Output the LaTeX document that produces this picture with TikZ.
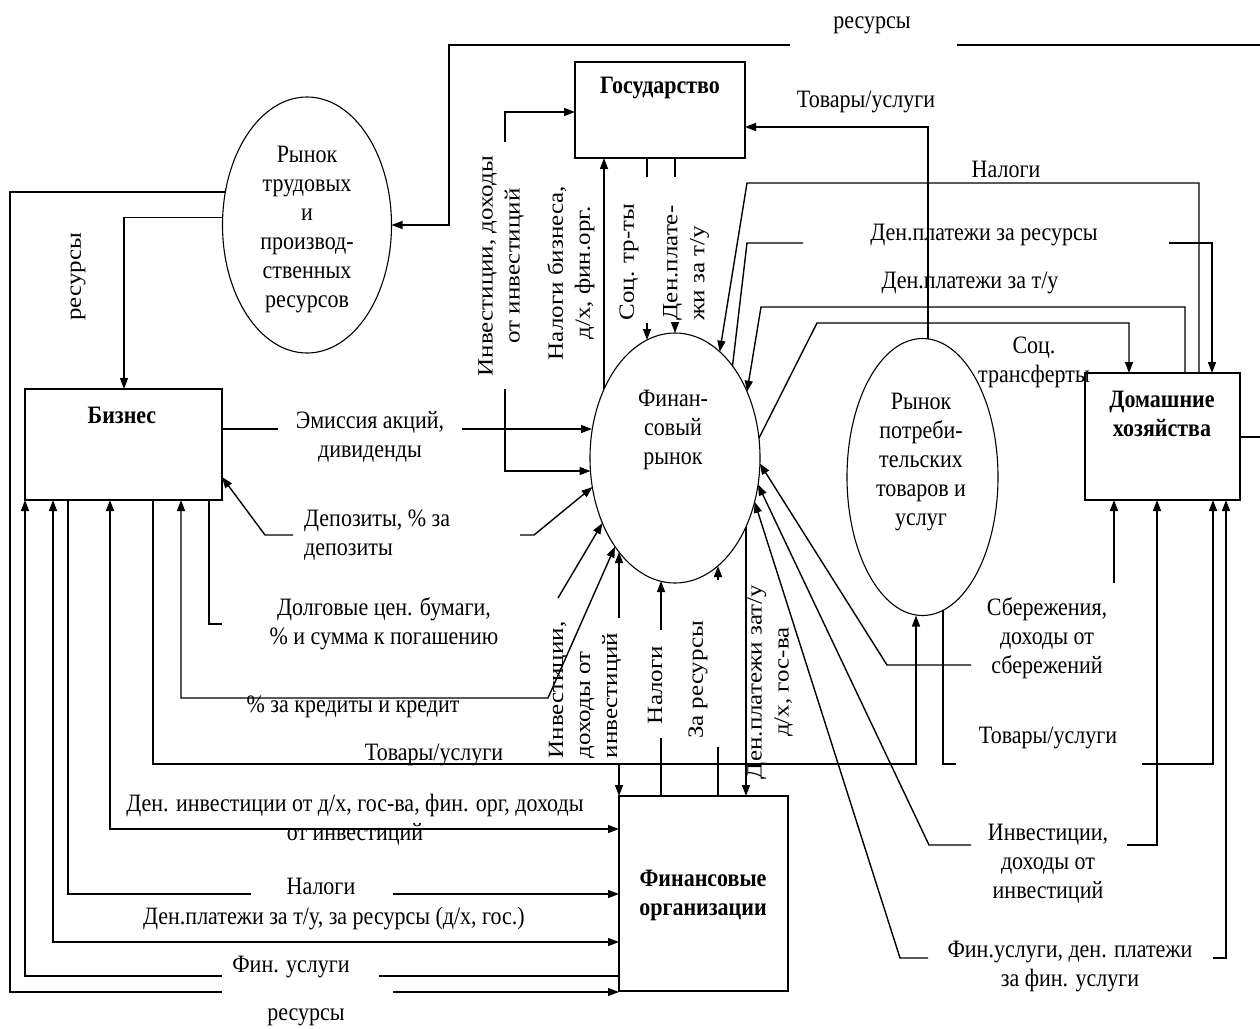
\documentclass[tikz,border=0pt]{standalone}
\usepackage{fontspec}
\setmainfont{Liberation Serif}[FakeStretch=0.88]
\newfontfamily\rotfam{Liberation Serif}[FakeStretch=1.15]
\usetikzlibrary{arrows.meta,shapes.geometric}
\newcommand{\labfont}{\fontsize{25pt}{29pt}\selectfont}
\newcommand{\rotfont}{\rotfam\fontsize{21.75pt}{27pt}\selectfont}
\begin{document}
\begin{tikzpicture}[x=1pt,y=-1pt,
  >={Triangle[length=11pt,width=8pt]},
  ln/.style={line width=1.4pt},
  box/.style={draw, rectangle, line width=1.4pt, inner sep=0pt, outer sep=0pt},
  oval/.style={draw, ellipse, line width=1.1pt, inner sep=0pt, outer sep=0pt},
  lbl/.style={font=\labfont, align=center, inner sep=0pt},
  rlbl/.style={font=\rotfont, align=center, inner sep=0pt, rotate=90},
  ttl/.style={font=\labfont\bfseries, align=center, inner sep=0pt}]
\fill[white] (0,0) rectangle (1260,1028);
\useasboundingbox (0,0) rectangle (1260,1028);

% main nodes
\node[box, minimum width=170pt, minimum height=96pt] (gos) at (660,110) {};
\node[box, minimum width=197pt, minimum height=111pt] (biz) at (123.5,444.5) {};
\node[box, minimum width=155pt, minimum height=127pt] (dh) at (1162.5,436.5) {};
\node[box, minimum width=169pt, minimum height=195pt] (fo) at (703.5,893.5) {};
\node[oval, minimum width=169pt, minimum height=256pt] (rtr) at (307,225) {};
\node[oval, minimum width=170pt, minimum height=250pt] (fr) at (675,458) {};
\node[oval, minimum width=151pt, minimum height=277pt] (rpt) at (922.5,477) {};

% titles
\node[ttl] (tgos) at (660,88) {Государство};
\node[ttl] (tbiz) at (122,415) {Бизнес};
\node[ttl] (tdh) at (1162,414) {Домашние\\хозяйства};
\node[ttl] (tfo) at (703,895) {Финансовые\\организации};
\node[lbl] (trtr) at (307,230) {Рынок\\трудовых\\и\\производ-\\ственных\\ресурсов};
\node[lbl] (tfr) at (673,430) {Финан-\\совый\\рынок};
\node[lbl] (trpt) at (921,462) {Рынок\\потреби-\\тельских\\товаров и\\услуг};

% labels
\node[lbl] (l1) at (872,25) {ресурсы};
\node[lbl] (l2) at (866,102) {Товары/услуги};
\node[lbl] (l3) at (1006,169) {Налоги};
\node[lbl] (l4) at (984,235) {Ден.платежи за ресурсы};
\node[lbl] (l5) at (970,283) {Ден.платежи за т/у};
\node[lbl] (l6) at (1034,362) {Соц.\\трансферты};
\node[rlbl] (l7) at (78,277) {ресурсы};
\node[lbl] (l8) at (370,437) {Эмиссия акций,\\дивиденды};
\node[lbl, align=left, anchor=west] (l9) at (304,535) {Депозиты, \% за\\депозиты};
\node[lbl] (l10) at (384,624) {Долговые цен. бумаги,\\\% и сумма к погашению};
\node[lbl] (l11) at (353,707) {\% за кредиты и кредит};
\node[lbl] (l12) at (434,755) {Товары/услуги};
\node[lbl] (l13) at (355,820) {Ден. инвестиции от д/х, гос-ва, фин. орг, доходы\\от инвестиций};
\node[lbl] (l14) at (321,886) {Налоги};
\node[lbl] (l15) at (334,919) {Ден.платежи за т/у, за ресурсы (д/х, гос.)};
\node[lbl] (l16) at (291,967) {Фин. услуги};
\node[lbl] (l17) at (306,1017) {ресурсы};
\node[rlbl] (l18) at (501,266) {Инвестиции, доходы\\от инвестиций};
\node[rlbl] (l19) at (571,273) {Налоги бизнеса,\\д/х, фин.орг.};
\node[rlbl] (l20) at (629,262) {Соц. тр-ты};
\node[rlbl, align=left] (l21) at (686,263) {Ден.плате-\\жи за т/у};
\node[rlbl, align=left] (l22) at (585,690) {Инвестиции,\\доходы от\\инвестиций};
\node[rlbl] (l23) at (655,685) {Налоги};
\node[rlbl] (l24) at (698,680) {За ресурсы};
\node[rlbl] (l25) at (770,682) {Ден.платежи зат/у\\д/х, гос-ва};
\node[lbl] (l26) at (1047,638) {Сбережения,\\доходы от\\сбережений};
\node[lbl] (l27) at (1048,738) {Товары/услуги};
\node[lbl] (l28) at (1048,864) {Инвестиции,\\доходы от\\инвестиций};
\node[lbl] (l29) at (1070,966) {Фин.услуги, ден. платежи\\за фин. услуги};

% top resources loop
\draw[ln] (dh.east |- 0,437) -- (1260,437);
\draw[ln] (1260,45) -- (957,45);
\draw[ln,->] (790,45) -- (449,45) |- (rtr.east);
% left outer resources
\draw[ln] (rtr.158) -| (10,992) -- (222,992);
\draw[ln,->] (393,992) -- (fo.west |- 0,992);
% labour market -> business
\draw[ln,->] (rtr.175) -| (biz.north -| 124,0);

% business -> financial market
\draw[ln] (biz.east |- 0,429) -- (278,429);
\draw[ln,->] (462,429) -- (592,429);
\draw[ln,->] (293,535) -- (265,535) -- (biz.east |- 0,477);
\draw[ln,->] (520,535) -- (534,535) -- (592.5,487);
\draw[ln] (biz.south -| 209,0) |- (222,624);
\draw[ln,->] (558,598) -- (602.4,523);
\draw[ln,<->] (biz.south -| 181,0) |- (548,698) -- (615,546.5);
\draw[ln,->] (biz.south -| 153,0) |- (916,764) -- (rpt.south -| 916,0);
\draw[ln,->] (619,764) -- (fo.north -| 619,0);
\draw[ln,<->] (biz.south -| 110,0) |- (fo.west |- 0,829);
\draw[ln] (biz.south -| 68,0) |- (251,894);
\draw[ln,->] (393,894) -- (fo.west |- 0,894);
\draw[ln,<->] (biz.south -| 53,0) |- (fo.west |- 0,942);
\draw[ln,->] (222,976) -| (biz.south -| 25,0);
\draw[ln] (fo.west |- 0,976) -- (379,976);

% state
\draw[ln,->] (505,142) |- (gos.west |- 0,112);
\draw[ln,->] (505,389) |- (590.5,471);
\draw[ln,->] (604,389) -- (gos.south -| 604,0);
\draw[ln] (gos.south -| 647,0) -- (647,177);
\draw[ln,->] (647,323) -- (647,340);
\draw[ln] (gos.south -| 675,0) -- (675,177);
\draw[ln,->] (675,323) -- (fr.north);
\draw[ln,->] (rpt.north -| 928,0) |- (gos.east |- 0,127);

% households top
\draw[ln,->] (dh.north -| 1199,0) |- (747,183) -- (719.7,351.7);
\draw[ln] (803,243) -- (747,243) -- (732.5,366);
\draw[ln,->] (1169,243) -| (dh.north -| 1212,0);
\draw[ln,->] (dh.north -| 1185,0) |- (761,307) -- (747,391.7);
\draw[ln,->] (758.9,438.2) -- (817,323) -| (dh.north -| 1129,0);

% households bottom
\draw[ln,->] (971,665) -- (887,665) -- (759.8,463.4);
\draw[ln,->] (1114,583) -- (dh.south -| 1114,0);
\draw[ln,->] (971,845) -- (929,845) -- (758,484.5);
\draw[ln,->] (1127,845) -| (dh.south -| 1157,0);
\draw[ln,->] (928,958) -- (900,958) -- (754.6,501.8);
\draw[ln,->] (1213,958) -| (dh.south -| 1226,0);
\draw[ln] (943,610) |- (956,764);
\draw[ln,->] (1142,764) -| (dh.south -| 1213,0);

% financial organisations
\draw[ln,->] (619,618) -- (619,552);
\draw[ln] (fo.north -| 661,0) -- (661,738);
\draw[ln,->] (661,630) -- (661,581);
\draw[ln] (fo.north -| 718,0) -- (718,747);
\draw[ln,->] (718,580) -- (718,566);
\draw[ln,->] (746,527) -- (fo.north -| 746,0);
\end{tikzpicture}
\end{document}
